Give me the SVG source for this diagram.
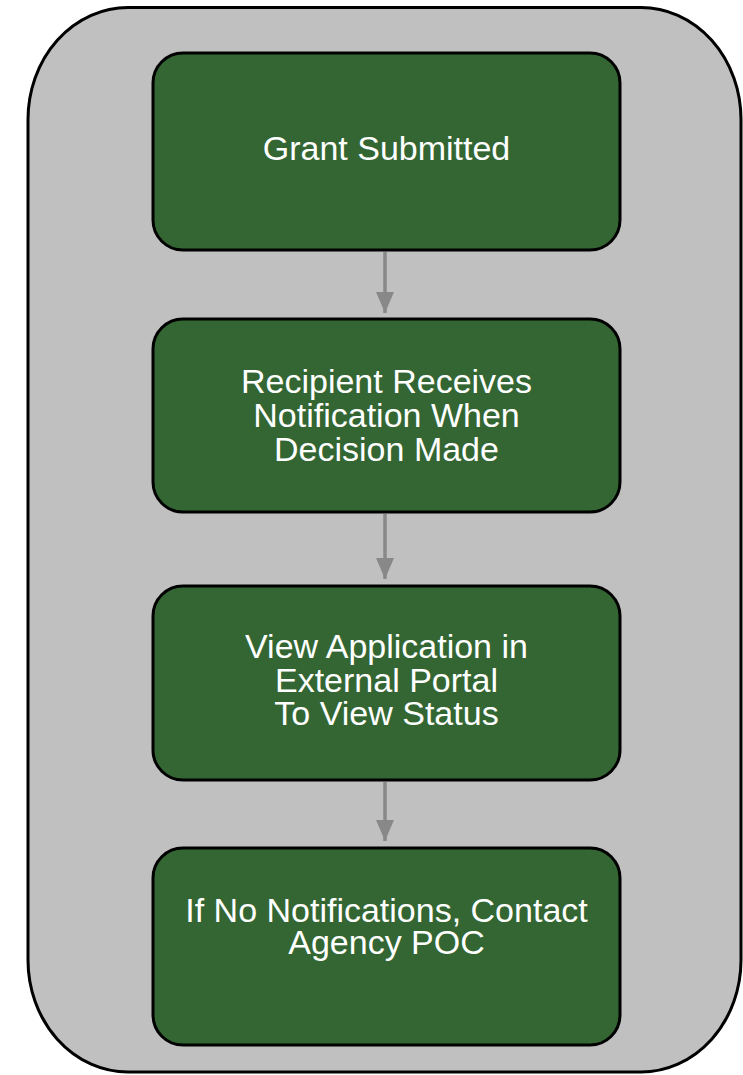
<svg xmlns="http://www.w3.org/2000/svg" width="743" height="1075" viewBox="0 0 743 1075">
  <style>
    .step { fill: #336633; stroke: #000000; stroke-width: 3; }
    .label { font-family: "Liberation Sans", Arial, sans-serif; font-size: 34px; fill: #ffffff; text-anchor: middle; }
    .flow { stroke: #888888; stroke-width: 3.5; fill: none; }
  </style>
  <defs>
    <!-- arrowhead drawn pointing along +x, rotated to the line direction -->
    <marker id="head" markerUnits="userSpaceOnUse" markerWidth="22" markerHeight="22" viewBox="0 0 22 22" refX="21" refY="11" orient="auto">
      <path d="M0,2 L21,11 L0,20 Z" fill="#888888"/>
    </marker>
  </defs>

  <!-- container -->
  <g id="container">
    <rect x="28" y="7.5" width="713" height="1064.5" rx="100" ry="112" fill="#c0c0c0" stroke="#000000" stroke-width="3"/>
  </g>

  <!-- connectors -->
  <g id="connectors">
    <line class="flow" x1="385" y1="252" x2="385" y2="313" marker-end="url(#head)"/>
    <line class="flow" x1="385" y1="514" x2="385" y2="579" marker-end="url(#head)"/>
    <line class="flow" x1="385" y1="782" x2="385" y2="841" marker-end="url(#head)"/>
  </g>

  <g id="grant-submitted">
    <rect class="step" x="153" y="53" width="467" height="197" rx="30" ry="30"/>
    <text class="label" x="386.5" y="160">Grant Submitted</text>
  </g>

  <g id="recipient-notified">
    <rect class="step" x="153" y="319" width="467" height="193" rx="30" ry="30"/>
    <text class="label" x="386.5" y="393">Recipient Receives</text>
    <text class="label" x="386.5" y="427">Notification When</text>
    <text class="label" x="386.5" y="461">Decision Made</text>
  </g>

  <g id="view-application">
    <rect class="step" x="153" y="586" width="467" height="194" rx="30" ry="30"/>
    <text class="label" x="386.5" y="658">View Application in</text>
    <text class="label" x="386.5" y="692">External Portal</text>
    <text class="label" x="386.5" y="725">To View Status</text>
  </g>

  <g id="contact-agency">
    <rect class="step" x="153" y="848" width="467" height="197" rx="30" ry="30"/>
    <text class="label" x="386.5" y="922">If No Notifications, Contact</text>
    <text class="label" x="386.5" y="954">Agency POC</text>
  </g>
</svg>
